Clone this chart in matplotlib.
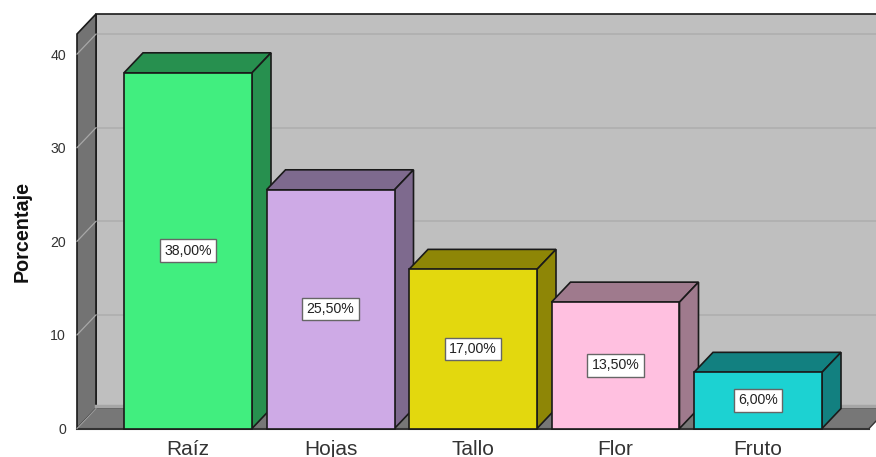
import matplotlib
matplotlib.use("Agg")
import matplotlib.pyplot as plt

plt.rcParams['font.family'] = ['Liberation Sans', 'DejaVu Sans']

categories = ["Raíz", "Hojas", "Tallo", "Flor", "Fruto"]
values = [38.0, 25.5, 17.0, 13.5, 6.0]
labels = ["38,00%", "25,50%", "17,00%", "13,50%", "6,00%"]
front_colors = ["#41EE7F", "#CEAAE6", "#E3D80E", "#FFC0E0", "#1CD2D2"]
side_colors = ["#27904F", "#7E6A8E", "#8E8606", "#9F7A8D", "#128080"]
yticks = [0, 10, 20, 30, 40]

W, H = 876, 457
X0, X1 = 77, 869          # front floor edge, px
Y0 = 428.5                # value 0, px
PX_PER_UNIT = 9.36
YTOP_FRONT = 34           # px
CENTER0, STEP, BAR_W = 188, 142.5, 128
DX, DY = 19, 20           # depth, px

fig = plt.figure(figsize=(W / 100, H / 100), dpi=100, facecolor="white")
ax = fig.add_axes([X0 / W, 1 - Y0 / H, (X1 - X0) / W, (Y0 - YTOP_FRONT) / H])
ax.set_xlim((X0 - CENTER0) / STEP, (X1 - CENTER0) / STEP)
ymax = (Y0 - YTOP_FRONT) / PX_PER_UNIT
ax.set_ylim(0, ymax)
for s in ax.spines.values():
    s.set_visible(False)
ax.patch.set_visible(False)

dx = DX / STEP
dy = DY / PX_PER_UNIT
xl, xr = ax.get_xlim()
EDGE = "#1a1a1a"


def poly(xs, ys, fc, ec=EDGE, lw=1.2, z=1):
    ax.fill(xs, ys, facecolor=fc, edgecolor=ec, linewidth=lw, zorder=z,
            clip_on=False, joinstyle="miter")


# back wall, side wall, floor
poly([xl + dx, xr + dx, xr + dx, xl + dx], [dy, dy, ymax + dy, ymax + dy], "#BFBFBF", z=1)
poly([xl, xl + dx, xl + dx, xl], [0, dy, ymax + dy, ymax], "#737373", z=2)
poly([xl, xr, xr + dx, xl + dx], [0, 0, dy, dy], "#777777", ec="none", lw=0, z=2)
ax.plot([xl + dx, xr + dx], [dy + 0.3, dy + 0.3], color="#A6A6A6", lw=2.5, zorder=2, clip_on=False)
ax.plot([xl, xr], [0, 0], color="#333333", lw=1.5, zorder=3, clip_on=False)
ax.plot([xl, xl + dx], [0, dy], color="#A0A0A0", lw=0.8, zorder=3, clip_on=False)
ax.plot([xr, xr + dx], [0, dy], color="#333333", lw=1.0, zorder=3, clip_on=False)

# gridlines
for t in yticks[1:]:
    ax.plot([xl + dx, xr + dx], [t + dy, t + dy], color="#AFAFAF", lw=1.2, zorder=1.5, clip_on=False)
    ax.plot([xl, xl + dx], [t, t + dy], color="#A8A8A8", lw=0.9, zorder=3, clip_on=False)

# bars
half = BAR_W / STEP / 2
for i, v in enumerate(values):
    z = 5 + i
    l, r = i - half, i + half
    poly([l, r, r + dx, l + dx], [v, v, v + dy, v + dy], side_colors[i], z=z)
    poly([r, r + dx, r + dx, r], [0, dy, v + dy, v], side_colors[i], z=z)
    poly([l, r, r, l], [0, 0, v, v], front_colors[i], z=z + 0.1)
    ax.text(i, v / 2, labels[i], ha="center", va="center", fontsize=10.2, color="#222222", zorder=20,
            bbox=dict(boxstyle="square,pad=0.3", facecolor="white", edgecolor="#666666", linewidth=1.0))

ax.set_xticks(range(len(categories)))
ax.set_xticklabels(categories, fontsize=15, color="#333333")
ax.set_yticks(yticks)
ax.set_yticklabels([str(t) for t in yticks], fontsize=10.2, color="#333333")
ax.tick_params(axis="x", length=0, pad=8)
ax.tick_params(axis="y", length=0, pad=8)
fig.text(22 / W, 1 - 231 / H, "Porcentaje", rotation=90, fontsize=14.2, fontweight="bold",
         ha="center", va="center", color="#111111")

fig.savefig("out.png", dpi=100, facecolor="white")
